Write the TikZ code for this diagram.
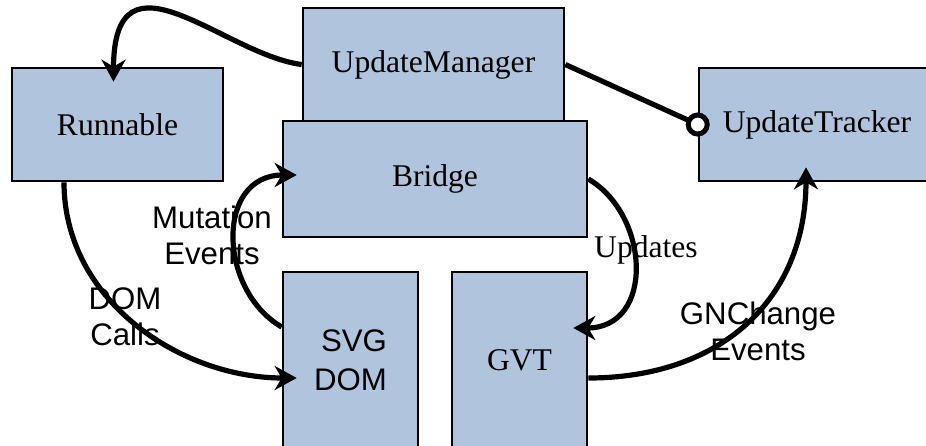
\documentclass[tikz,border=0pt]{standalone}
\usepackage{fontspec}
\setmainfont{Liberation Serif}
\setsansfont{Liberation Sans}
\usetikzlibrary{arrows.meta}
\definecolor{boxblue}{RGB}{176,196,222}

\begin{document}
\begin{tikzpicture}[x=0.5pt,y=-0.5pt,
  block/.style={draw=black, line width=1.3pt, fill=boxblue, inner sep=0pt,
    font=\fontsize{15.8pt}{18pt}\selectfont},
  flow/.style={line width=2.6pt, shorten >=-7.5pt,
    -{Stealth[length=11pt,width=12pt,inset=3.5pt]}},
  link/.style={line width=2.6pt},
  socket/.style={circle, draw=black, fill=white, line width=2.5pt, minimum size=9.5pt, inner sep=0pt},
  lbl/.style={font=\sffamily\fontsize{15.6pt}{18pt}\selectfont, align=center, inner sep=0pt}]
\useasboundingbox (0,0) rectangle (926,445);
\clip (0,0) rectangle (926,445);
\path (117.5,124.5) node[block, minimum width=105.5pt, minimum height=56.5pt] (run) {Runnable}
		(433.5,64.5) node[block, minimum width=130.5pt, minimum height=56.5pt] (um) {UpdateManager}
		(435,179) node[block, minimum width=152pt, minimum height=58pt] (br) {Bridge}
		(817,124.5) node[block, minimum width=118pt, minimum height=56.5pt] (ut) {UpdateTracker}
		(350.5,360) node[block, minimum width=67.5pt, minimum height=88pt, align=right,
			font=\sffamily\fontsize{15.6pt}{19.5pt}\selectfont] (svg) {SVG\\DOM}
		(519.5,360) node[block, minimum width=67.5pt, minimum height=88pt] (gvt) {GVT};

\draw[flow] (node cs:name=um, anchor=west) .. controls (225,55) and (114,-60) .. ([xshift=-2pt]node cs:name=run, anchor=north);
\draw[link] (node cs:name=um, anchor=east) -- (node cs:name=ut, anchor=west)
		node[socket] (utsock) {};
\draw[flow] ([xshift=-26.75pt]node cs:name=run, anchor=south) .. controls (64,300) and (180,378) .. ([yshift=-9pt]node cs:name=svg, anchor=west);
\draw[flow] ([yshift=16.5pt]node cs:name=svg, anchor=west) .. controls (218,290) and (215,175) .. ([yshift=2pt]node cs:name=br, anchor=west);
\draw[flow] (node cs:name=br, anchor=east) .. controls (650,215) and (655,328) .. ([yshift=16pt]node cs:name=gvt, anchor=east);
\draw[flow] ([yshift=-9pt]node cs:name=gvt, anchor=east) .. controls (720,378) and (806,300) .. ([xshift=-5.5pt]node cs:name=ut, anchor=south);

\path (212,235) node[lbl] (mut) {Mutation\\Events}
		(125,317) node[lbl] (domc) {DOM\\Calls}
		(646,250) node[lbl, font=\fontsize{15.8pt}{18pt}\selectfont] (upd) {Updates}
		(758,331) node[lbl] (gnc) {GNChange\\Events};
\end{tikzpicture}
\end{document}
